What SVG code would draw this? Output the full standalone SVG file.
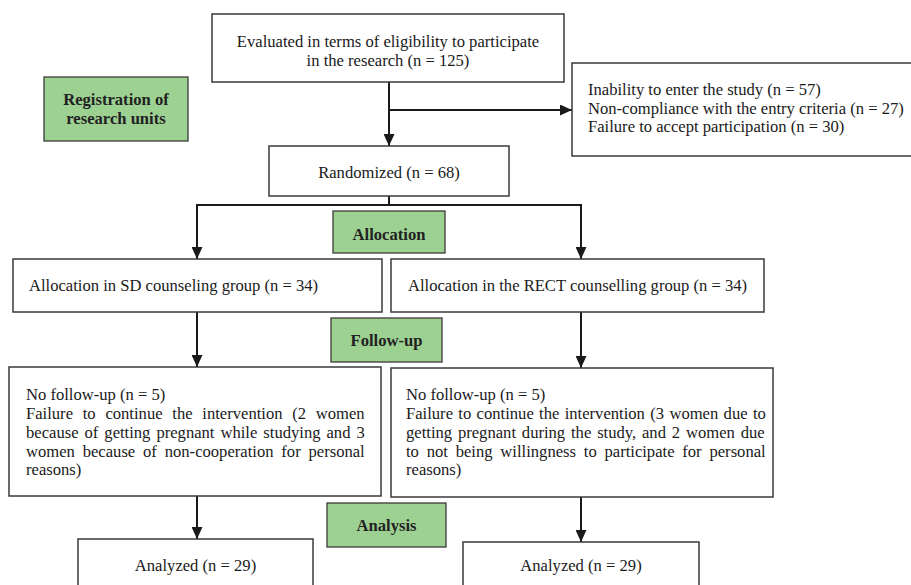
<svg xmlns="http://www.w3.org/2000/svg" width="911" height="585" viewBox="0 0 911 585">
<defs>
<marker id="ah" viewBox="0 0 12 11" refX="12" refY="5.5" markerWidth="12" markerHeight="11" markerUnits="userSpaceOnUse" orient="auto">
<path d="M0,0 L12,5.5 L0,11 z" fill="#1a1a1a"/>
</marker>
<style>
.box{fill:#fff;stroke:#3a3a3a;stroke-width:1.5}
.gbox{fill:#9dd192;stroke:#3a3a3a;stroke-width:1.3}
.t{font-family:"Liberation Serif","Times New Roman",serif;font-size:16.6px;fill:#1a1a1a}
.c{text-anchor:middle}
.b{font-family:"Liberation Serif","Times New Roman",serif;font-size:16.6px;font-weight:bold;fill:#222;text-anchor:middle}
.ln{fill:none;stroke:#1a1a1a;stroke-width:2}
</style>
</defs>
<rect width="911" height="585" fill="#fff"/>

<g id="connectors">
<path class="ln" d="M389,82 V146" marker-end="url(#ah)"/>
<path class="ln" d="M389,110 H572" marker-end="url(#ah)"/>
<path class="ln" d="M389,196 V205 M197,205 H581"/>
<path class="ln" d="M197,204 V259" marker-end="url(#ah)"/>
<path class="ln" d="M581,204 V259" marker-end="url(#ah)"/>
<path class="ln" d="M197,312 V367" marker-end="url(#ah)"/>
<path class="ln" d="M581,312 V368" marker-end="url(#ah)"/>
<path class="ln" d="M197,496 V539" marker-end="url(#ah)"/>
<path class="ln" d="M581,497 V542" marker-end="url(#ah)"/>
</g>

<g id="eligibility">
<rect class="box" x="212" y="14" width="352" height="68"/>
<text class="t c" x="388" y="46.5">Evaluated in terms of eligibility to participate</text>
<text class="t c" x="388" y="65.5">in the research (n = 125)</text>
</g>

<g id="excluded">
<rect class="box" x="572" y="63" width="345" height="93"/>
<text class="t" x="588" y="95">Inability to enter the study (n = 57)</text>
<text class="t" x="588" y="113.5">Non-compliance with the entry criteria (n = 27)</text>
<text class="t" x="588" y="132">Failure to accept participation (n = 30)</text>
</g>

<g id="registration">
<rect class="gbox" x="44" y="77" width="144" height="64"/>
<text class="b" x="116" y="105">Registration of</text>
<text class="b" x="116" y="123.5">research units</text>
</g>

<g id="randomized">
<rect class="box" x="269" y="146" width="240" height="50"/>
<text class="t c" x="389" y="178">Randomized (n = 68)</text>
</g>

<g id="allocation-label">
<rect class="gbox" x="333" y="211" width="112" height="42"/>
<text class="b" x="389" y="239.5">Allocation</text>
</g>

<g id="sd-group">
<rect class="box" x="13" y="259" width="369" height="53"/>
<text class="t" x="29" y="291">Allocation in SD counseling group (n = 34)</text>
</g>

<g id="rect-group">
<rect class="box" x="391" y="259" width="373" height="53"/>
<text class="t" x="408" y="291">Allocation in the RECT counselling group (n = 34)</text>
</g>

<g id="followup-label">
<rect class="gbox" x="331" y="318" width="111" height="44"/>
<text class="b" x="386.5" y="346">Follow-up</text>
</g>

<g id="sd-followup">
<rect class="box" x="9" y="367" width="372" height="129"/>
<text class="t" x="26" y="400">No follow-up (n = 5)</text>
<text class="t" x="26" y="419" word-spacing="5.6">Failure to continue the intervention (2 women</text>
<text class="t" x="26" y="437.8" word-spacing="1.85">because of getting pregnant while studying and 3</text>
<text class="t" x="26" y="456.6" word-spacing="3.7">women because of non-cooperation for personal</text>
<text class="t" x="26" y="475.4">reasons)</text>
</g>

<g id="rect-followup">
<rect class="box" x="391" y="368" width="382" height="129"/>
<text class="t" x="406" y="400">No follow-up (n = 5)</text>
<text class="t" x="406" y="419" word-spacing="1.2">Failure to continue the intervention (3 women due to</text>
<text class="t" x="406" y="437.8" word-spacing="1.7">getting pregnant during the study, and 2 women due</text>
<text class="t" x="406" y="456.6" word-spacing="3.65">to not being willingness to participate for personal</text>
<text class="t" x="406" y="475.4">reasons)</text>
</g>

<g id="analysis-label">
<rect class="gbox" x="327" y="503" width="119" height="44"/>
<text class="b" x="386.5" y="531">Analysis</text>
</g>

<g id="sd-analyzed">
<rect class="box" x="78" y="539" width="235" height="60"/>
<text class="t c" x="195.5" y="571">Analyzed (n = 29)</text>
</g>

<g id="rect-analyzed">
<rect class="box" x="463" y="542" width="236" height="60"/>
<text class="t c" x="581" y="571">Analyzed (n = 29)</text>
</g>
</svg>
